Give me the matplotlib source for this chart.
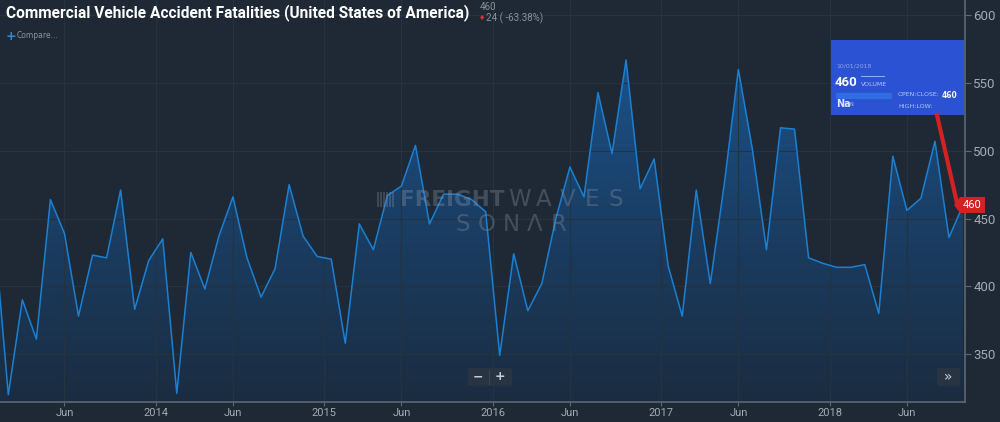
import numpy as np
import matplotlib
matplotlib.use("Agg")
import matplotlib.pyplot as plt
from matplotlib.patches import Rectangle, FancyBboxPatch, Polygon

# Monthly commercial vehicle accident fatalities, Jan 2013 .. Oct 2018
fatalities = [441,
              320, 390, 361, 464, 439, 378, 423, 421, 471, 383, 419,
              435, 321, 425, 398, 437, 466, 421, 392, 413, 475, 437, 422,
              420, 358, 446, 427, 467, 474, 504, 446, 468, 468, 464, 455,
              349, 424, 382, 402, 450, 488, 466, 543, 498, 567, 472, 494,
              415, 378, 471, 402, 476, 560, 501, 427, 517, 516, 421, 417,
              414, 414, 416, 380, 496, 456, 465, 507, 436, 460]
start_year = 2013
years = [2014, 2015, 2016, 2017, 2018]
y_ticks = [350, 400, 450, 500, 550, 600]

BG = "#1e2935"
GRID = "#253240"
LINE = "#1a80d4"
TICK = "#a3abb4"
NARROW = ["Roboto", "DejaVu Sans"]

W, H = 1000, 422


def fx(px):
    return px / W


def fy(py):
    return 1 - py / H


def fit_width(txt, width_px):
    # shrink a text until it spans the wanted number of pixels
    fig.canvas.draw()
    bb = txt.get_window_extent()
    txt.set_fontsize(txt.get_fontsize() * width_px / bb.width)


months = np.arange(len(fatalities))
vals = np.array(fatalities, dtype=float)

fig = plt.figure(figsize=(10, 4.22), dpi=100, facecolor=BG)
ax = fig.add_axes([0, fy(402), fx(965), 402 / H])
ax.set_facecolor(BG)

x0, x1 = 0.409, 69.14
y0, y1 = 314.6, 611.3
ax.set_xlim(x0, x1)
ax.set_ylim(y0, y1)

# gradient fill under the line
fill = ax.fill_between(months, vals, y0, color="none", lw=0)
grad = np.linspace(0, 1, 256).reshape(-1, 1)
cmap = matplotlib.colors.LinearSegmentedColormap.from_list(
    "g", ["#1b2c40", "#1a3f66", "#1a5590"])
img = ax.imshow(grad, extent=[x0, x1, y0, 590], origin="lower", aspect="auto",
                cmap=cmap, zorder=1)
img.set_clip_path(fill.get_paths()[0], transform=ax.transData)
ax.plot(months, vals, color=LINE, lw=1.1, zorder=3)

# ticks: Jun on the month, years half a month before January
jun_pos = [12 * k + 5 for k in range(6)]
year_pos = [12 * (y - start_year) - 0.5 for y in years]
xt = sorted(jun_pos + year_pos)
xl = []
for p in xt:
    if p in year_pos:
        xl.append(str(years[year_pos.index(p)]))
    else:
        xl.append("Jun")
ax.set_xticks(xt)
ax.set_xticklabels(xl, color=TICK, fontsize=8, family=NARROW,
                   fontstretch="condensed")
ax.set_yticks(y_ticks)
ax.yaxis.tick_right()
ax.set_yticklabels([str(v) for v in y_ticks], color=TICK, fontsize=9.5,
                   family=NARROW)
ax.tick_params(axis="x", colors="#5d6873", length=3, labelcolor=TICK, pad=1)
ax.tick_params(axis="y", colors="#5d6873", length=4, labelcolor=TICK, pad=2)
ax.grid(True, color=GRID, lw=0.8, zorder=0)
for s in ["top", "left"]:
    ax.spines[s].set_visible(False)
for s in ["right", "bottom"]:
    ax.spines[s].set_color("#5d6873")
    ax.spines[s].set_linewidth(1.2)

# watermark
wm = "#8a96a3"
for k in range(6):
    fig.add_artist(Rectangle((fx(377 + k * 3), fy(207)), fx(1.6), 15 / H,
                             transform=fig.transFigure, color=wm, alpha=0.3,
                             lw=0))
t1 = fig.text(fx(400), fy(200), "FREIGHT", color=wm, alpha=0.35, fontsize=17,
              fontweight="bold", family=["DejaVu Sans"], va="center")
fit_width(t1, 104)
wm_size = t1.get_fontsize()
for k, ch in enumerate("WAVES"):
    fig.text(fx(520 + k * 24), fy(200), ch, color=wm, alpha=0.35,
             fontsize=wm_size + 1, family=["DejaVu Sans"], va="center",
             ha="center")
for k, ch in enumerate("SONΛR"):
    fig.text(fx(463 + k * 24), fy(224), ch, color=wm, alpha=0.35,
             fontsize=wm_size + 1, family=["DejaVu Sans"], va="center",
             ha="center")

# header
title = fig.text(fx(6), fy(13),
                 "Commercial Vehicle Accident Fatalities (United States of America)",
                 color="white", fontsize=14, fontweight="bold", family=NARROW,
                 fontstretch="condensed", va="center")
fit_width(title, 467)
fig.text(fx(480), fy(7), "460", color="#8a939c", fontsize=7, family=NARROW,
         va="center")
fig.text(fx(479), fy(18), "\u2666", color="#e03030", fontsize=5,
         va="center")
fig.text(fx(486), fy(18), "24 ( -63.38%)", color="#8a939c", fontsize=7,
         family=NARROW, va="center")
fig.text(fx(6), fy(36), "+", color="#2a8ae0", fontsize=9, fontweight="bold",
         va="center")
fig.text(fx(17), fy(36), "Compare...", color="#8a939c", fontsize=5.5,
         va="center")

# tooltip
fig.add_artist(Rectangle((fx(831), fy(115)), fx(133), 75 / H,
                         transform=fig.transFigure, color="#2a52d2", lw=0,
                         zorder=5))
fig.add_artist(Rectangle((fx(836), fy(99)), fx(56), 6 / H,
                         transform=fig.transFigure, color="#2f6de0", lw=0,
                         zorder=6))
fig.add_artist(Rectangle((fx(861), fy(77)), fx(24), 0.8 / H,
                         transform=fig.transFigure, color="#8fb0f0", lw=0,
                         zorder=6))
tip = dict(color="#b5c8f2", zorder=7, va="center")
fig.text(fx(836), fy(66), "10/01/2018", fontsize=4.5, alpha=0.7, **tip)
big = fig.text(fx(835), fy(82), "460", color="white", fontsize=10.5,
               fontweight="bold", family=NARROW, va="center", zorder=7)
fit_width(big, 23)
fig.text(fx(861), fy(84), "VOLUME", fontsize=4.5, **tip)
fig.text(fx(836), fy(104), "Na", color="#dce6ff", fontsize=7,
         fontweight="bold", va="center", zorder=7)
fig.text(fx(849), fy(105), "N", fontsize=3.5, **tip)
fig.text(fx(898), fy(95), "OPEN:CLOSE:", fontsize=4.5, **tip)
fig.text(fx(942), fy(95), "460", color="#eef3ff", fontsize=5.5,
         fontweight="bold", va="center", zorder=7)
fig.text(fx(898), fy(106), "HIGH:LOW:", fontsize=4.5, **tip)

# red pointer and last value label
fig.add_artist(plt.Line2D([fx(937), fx(957)], [fy(115), fy(203)],
                          transform=fig.transFigure, color="#d42222", lw=3,
                          zorder=6))
fig.add_artist(Polygon([(fx(954), fy(205)), (fx(960), fy(197)),
                        (fx(985), fy(197)), (fx(985), fy(213)),
                        (fx(960), fy(213))], closed=True,
                       transform=fig.transFigure, color="#d42222", lw=0,
                       zorder=6))
fig.text(fx(972), fy(205), "460", color="white", fontsize=8, family=NARROW,
         ha="center", va="center", zorder=7)

# zoom buttons
fig.add_artist(FancyBboxPatch((fx(468), fy(386)), fx(44), 18 / H,
                              boxstyle="round,pad=0,rounding_size=0.004",
                              transform=fig.transFigure, color="#283442",
                              lw=0, zorder=5))
fig.add_artist(plt.Line2D([fx(489), fx(489)], [fy(370), fy(384)],
                          transform=fig.transFigure, color="#3a4654", lw=0.8,
                          zorder=6))
fig.text(fx(478), fy(377), "\u2212", color="#c8ced4", fontsize=9,
         fontweight="bold", ha="center", va="center", zorder=7)
fig.text(fx(500), fy(377), "+", color="#c8ced4", fontsize=9,
         fontweight="bold", ha="center", va="center", zorder=7)
fig.add_artist(FancyBboxPatch((fx(937), fy(386)), fx(23), 18 / H,
                              boxstyle="round,pad=0,rounding_size=0.004",
                              transform=fig.transFigure, color="#283442",
                              lw=0, zorder=5))
fig.text(fx(948), fy(377), "\u00bb", color="#c8ced4", fontsize=10,
         ha="center", va="center", zorder=7)

fig.savefig("out.png", dpi=100, facecolor=BG)
